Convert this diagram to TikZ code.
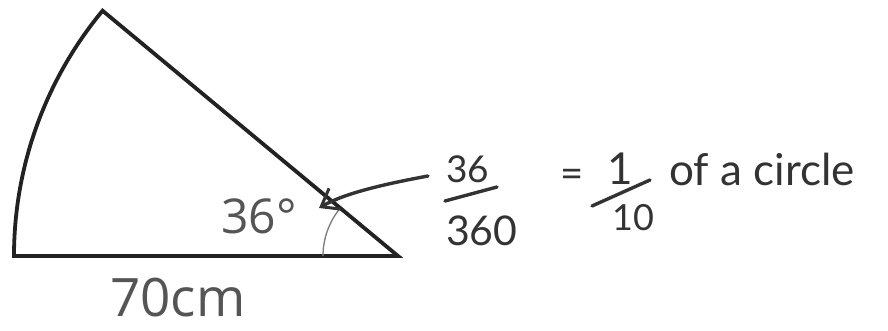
\documentclass[tikz,border=0pt]{standalone}
\usepackage{fontspec}
\setmainfont{Open Sans}
\newfontfamily\handfont{Lato}
\usetikzlibrary{arrows.meta}
\definecolor{inkdark}{HTML}{222222}
\definecolor{labelgrey}{HTML}{555555}
\definecolor{handink}{HTML}{333333}
\definecolor{markgrey}{HTML}{7A7A7A}
\tikzset{
  sectorline/.style={draw=inkdark, line width=3.8pt, line join=miter},
  anglemark/.style={draw=markgrey, line width=1.3pt},
  labeltext/.style={inner sep=0pt, text=labelgrey},
  handtext/.style={inner sep=0pt, text=handink, font=\handfont},
  handstroke/.style={draw=handink, line width=3.4pt, line cap=round},
}
\begin{document}
\begin{tikzpicture}[x=1pt,y=1pt]
\useasboundingbox[fill=white] (0,0) rectangle (888,330);
% sector
\coordinate (C) at (398,74);
\coordinate (L) at (14,74);
\path[sectorline] (C) -- (L) arc[start angle=180, end angle=140.3, radius=384] coordinate (T) -- cycle;
% angle mark
\coordinate (A1) at (323,74);
\draw[anglemark] (A1) arc[start angle=180, end angle=140.3, radius=75] coordinate (A2);
% labels
\node[labeltext, anchor=base west, font=\fontsize{48}{56}\selectfont] (ang) at (221,97) {36°};
\node[labeltext, anchor=base west, font=\fontsize{53}{60}\selectfont] (len) at (110,14) {70cm};
% handwritten part
\node[handtext, anchor=base west, font=\handfont\fontsize{37}{42}\selectfont] (n36) at (446,148) {36};
\node[handtext, anchor=base west, font=\handfont\fontsize{41}{48}\selectfont] (n360) at (446,85) {360};
\coordinate (f1a) at (445,129);
\coordinate (f1b) at (497,143);
\draw[handstroke] (f1a) -- (f1b);
\node[handtext, font=\handfont\fontsize{40}{46}\selectfont] (eq) at (572,152) {=};
\node[handtext, anchor=base, font=\handfont\fontsize{44}{52}\selectfont] (one) at (620,146) {1};
\node[handtext, anchor=base west, font=\handfont\fontsize{36}{42}\selectfont] (ten) at (612,100) {10};
\coordinate (f2a) at (592,124);
\coordinate (f2b) at (650,150);
\draw[handstroke] (f2a) -- (f2b);
\node[handtext, anchor=base west, font=\handfont\fontsize{44}{50}\selectfont] (circ) at (669,145) {of a circle};
% arrow
\coordinate (tail) at (428,154);
\coordinate (tip) at (319,122);
\draw[handstroke, -{Straight Barb[length=16pt,width=24pt,line width=3pt]}] (tail) .. controls (385,146) and (345,137) .. (tip);
\end{tikzpicture}
\end{document}
